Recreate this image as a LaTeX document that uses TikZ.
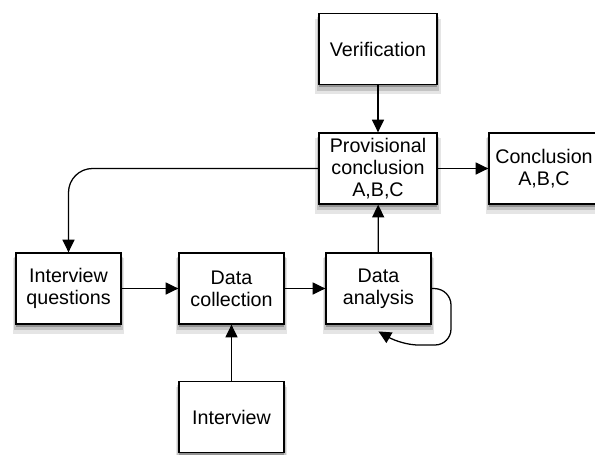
\documentclass[tikz,border=0pt]{standalone}
\usepackage{fontspec}
\setmainfont{Liberation Sans}
\usetikzlibrary{arrows.meta,shadows}

\begin{document}
\begin{tikzpicture}[x=0.025cm, y=-0.025cm, line width=0.9pt,
    soft shadow/.style={
        drop shadow={shadow xshift=0pt, shadow yshift=-5pt, shadow scale=1.06, opacity=0.1, fill=black},
        drop shadow={shadow xshift=0pt, shadow yshift=-3.5pt, shadow scale=1.03, opacity=0.15, fill=black},
        drop shadow={shadow xshift=0pt, shadow yshift=-2pt, opacity=0.25, fill=black}},
    box/.style={draw, fill=white, align=center, inner sep=2pt,
        font=\fontsize{14}{15.6}\selectfont,
        minimum width=2.625cm, minimum height=1.775cm, soft shadow},
    wide box/.style={box, minimum width=2.95cm},
    arr/.style={-{Triangle[length=9pt, width=8.5pt]}}]

    \useasboundingbox (0,0) rectangle (595,455);

    % Boxes
    \node[wide box] (verif) at (378,49) {Verification};
    \node[wide box] (prov) at (378,168.5) {Provisional\\conclusion\\A,B,C};
    \node[box, minimum width=2.75cm] (concl) at (544,168.5) {Conclusion\\A,B,C};
    \node[box] (iq) at (68.5,288.5) {Interview\\questions};
    \node[box] (dc) at (231.5,288.5) {Data\\collection};
    \node[box] (da) at (378.5,288.5) {Data\\analysis};
    \node[box] (intv) at (231.5,417) {Interview};

    % Connectors
    \draw[arr] (verif) -- (prov);
    \draw[arr] (prov) -- (concl);
    \draw[arr] (iq) -- (dc);
    \draw[arr] (dc) -- (da);
    \draw[arr] (da) -- (prov);
    \draw[arr] (intv) -- (dc);
    \draw[arr, rounded corners=0.6cm] (prov.west) -| (iq.north);

    % Loop on analysis
    \draw[arr, rounded corners=0.4cm] (da.east) -- (451,289) -- (451,345) -- (402,345)
        -- ([yshift=-0.17cm]da.south);

\end{tikzpicture}
\end{document}
